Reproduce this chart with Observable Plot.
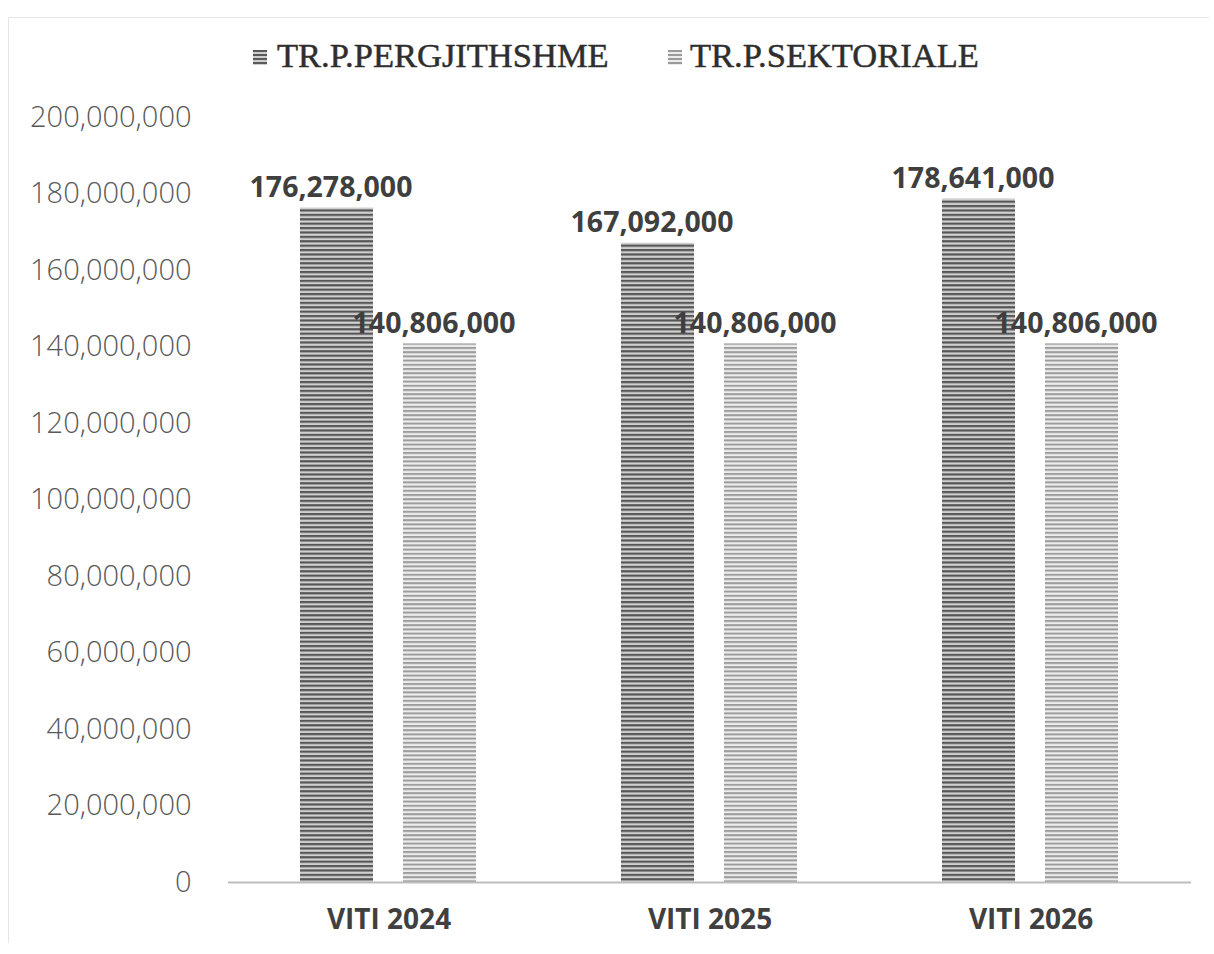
<!DOCTYPE html>
<html>
<head>
<meta charset="utf-8">
<script src="https://cdn.jsdelivr.net/npm/d3@7"></script>
<script src="https://cdn.jsdelivr.net/npm/@observablehq/plot@0.6"></script>
<style>
  html, body { margin: 0; padding: 0; background: #fff; }
  #page { position: relative; width: 1214px; height: 954px; overflow: hidden; }
  #frame { position: absolute; left: 8px; top: 17px; width: 1200px; height: 925px;
           border-left: 1px solid #e6e6e6; border-top: 1px solid #e6e6e6; pointer-events: none; }
  #legend { position: relative; height: 95px; }
  .sw { position: absolute; top: 50px; width: 14px; height: 15px; }
  .lt { position: absolute; top: 37px; font-family: "Liberation Serif", "Times New Roman", serif;
        font-size: 34.5px; line-height: 36px; color: #2e2e2e; white-space: nowrap;
        -webkit-text-stroke: 0.5px #2e2e2e; }
</style>
</head>
<body>
<div id="page">
  <div id="frame"></div>
  <div id="legend"></div>
  <div id="chart"></div>
</div>
<script>
// ---- data ----
const categories = ["VITI 2024", "VITI 2025", "VITI 2026"];
const seriesNames = ["TR.P.PERGJITHSHME", "TR.P.SEKTORIALE"];
const pergjithshme = [176278000, 167092000, 178641000];
const sektoriale = [140806000, 140806000, 140806000];
const yTicks = [0, 20000000, 40000000, 60000000, 80000000, 100000000, 120000000, 140000000, 160000000, 180000000, 200000000];

const rows = categories.flatMap((c, i) => [
  {year: c, series: seriesNames[0], value: pergjithshme[i]},
  {year: c, series: seriesNames[1], value: sektoriale[i]}
]);
const fmt = d3.format(",");

// ---- legend ----
const legend = document.getElementById("legend");
const swatchCss = [
  "repeating-linear-gradient(to bottom, #5a5a5a 0 2px, #cfcfcf 2px 4px)",
  "repeating-linear-gradient(to bottom, #9a9a9a 0 2px, #ececec 2px 4px)"
];
const legendPos = [{sw: 253, tx: 277}, {sw: 668, tx: 690}];
seriesNames.forEach((s, i) => {
  const sw = document.createElement("div");
  sw.className = "sw";
  sw.style.left = legendPos[i].sw + "px";
  sw.style.background = swatchCss[i];
  legend.appendChild(sw);
  const t = document.createElement("div");
  t.className = "lt";
  t.style.left = legendPos[i].tx + "px";
  t.textContent = s;
  legend.appendChild(t);
});

// ---- chart ----
const chart = Plot.plot({
  width: 1214,
  height: 859,
  marginLeft: 228,
  marginRight: 23,
  marginTop: 22,
  marginBottom: 72,
  style: {fontFamily: "'Open Sans', sans-serif", fontSize: "29px", fontWeight: 300, color: "#595959", background: "transparent"},
  fx: {domain: categories, padding: 0, axis: null},
  x: {domain: seriesNames, paddingInner: 0.29, paddingOuter: 0.7, axis: null},
  y: {domain: [0, 200000000], ticks: yTicks, tickFormat: d => fmt(d), tickSize: 0, tickPadding: 37, label: null},
  marks: [
    Plot.barY(rows.filter(d => d.series === seriesNames[0]), {fx: "year", x: "series", y: "value", fill: "url(#pDark)"}),
    Plot.barY(rows.filter(d => d.series === seriesNames[1]), {fx: "year", x: "series", y: "value", fill: "url(#pLight)"}),
    Plot.ruleY([0], {stroke: "#bdbdbd", strokeWidth: 2}),
    Plot.text(rows, {fx: "year", x: "series", y: "value", text: d => fmt(d.value),
      lineAnchor: "bottom", dy: -11, dx: -6, fontSize: 28.5, fontWeight: "bold", fill: "#3f3f3f"}),
    Plot.text(categories, {fx: d => d, text: d => d, frameAnchor: "bottom", dy: 38,
      lineAnchor: "middle", fontSize: 28, fontWeight: "bold", fill: "#404040"})
  ]
});

// patterns for the striped bars
const svg = d3.select(chart.tagName.toLowerCase() === "svg" ? chart : chart.querySelector("svg"));
const defs = svg.insert("defs", ":first-child");
const pd = defs.append("pattern").attr("id", "pDark").attr("patternUnits", "userSpaceOnUse")
  .attr("width", 8).attr("height", 4.4);
pd.append("rect").attr("width", 8).attr("height", 4.4).attr("fill", "#d0d0d0");
pd.append("rect").attr("width", 8).attr("height", 2.2).attr("fill", "#565656");
const pl = defs.append("pattern").attr("id", "pLight").attr("patternUnits", "userSpaceOnUse")
  .attr("width", 8).attr("height", 4.2);
pl.append("rect").attr("width", 8).attr("height", 4.2).attr("fill", "#ededed");
pl.append("rect").attr("width", 8).attr("height", 2).attr("fill", "#9c9c9c");

document.getElementById("chart").appendChild(chart);
</script>
</body>
</html>
